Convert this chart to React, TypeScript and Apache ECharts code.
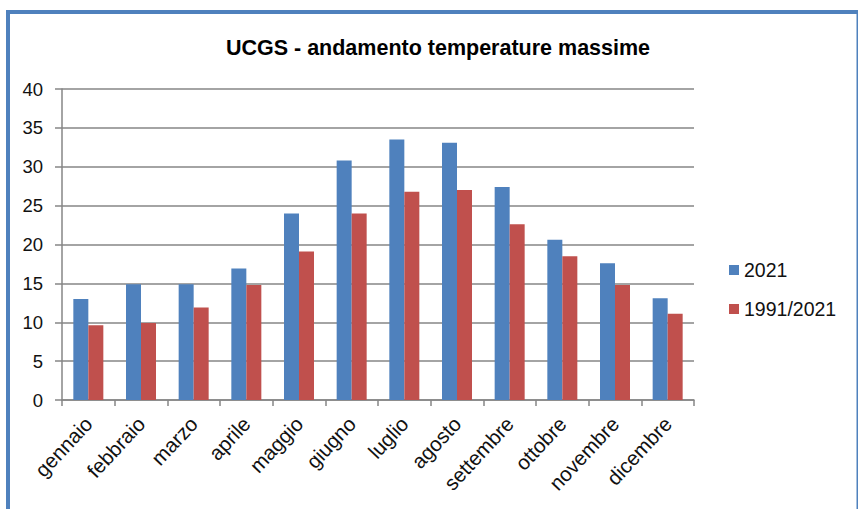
import React, { useEffect, useRef } from "react";
import * as echarts from "echarts";

const months = ["gennaio", "febbraio", "marzo", "aprile", "maggio", "giugno", "luglio", "agosto", "settembre", "ottobre", "novembre", "dicembre"];
const values2021 = [13.0, 14.9, 14.9, 16.9, 24.0, 30.8, 33.5, 33.1, 27.4, 20.6, 17.6, 13.1];
const values1991_2021 = [9.6, 9.9, 11.9, 14.8, 19.1, 24.0, 26.8, 27.0, 22.6, 18.5, 14.8, 11.1];
const seriesNames = ["2021", "1991/2021"];
const yTicks = { min: 0, max: 40, interval: 5 };

export default function App() {
  const ref = useRef<HTMLDivElement>(null);
  useEffect(() => {
    if (!ref.current) return;
    const chart = echarts.init(ref.current, null, { renderer: "svg" });
    const font = "'Liberation Sans', Arial, sans-serif";
    chart.setOption({
      animation: false,
      backgroundColor: "#ffffff",
      title: {
        text: "UCGS - andamento temperature massime",
        left: 433,
        textAlign: "center",
        top: 32,
        textStyle: { fontFamily: font, fontSize: 21.5, fontWeight: "bold", color: "#000" },
      },
      graphic: [
        { type: "rect", shape: { x: 6, y: 10, width: 4, height: 499 }, style: { fill: "#4F81BD" } },
        { type: "rect", shape: { x: 6, y: 10, width: 852, height: 4 }, style: { fill: "#4F81BD" } },
        { type: "rect", shape: { x: 856.5, y: 10, width: 1.5, height: 499 }, style: { fill: "#4F81BD" } },
      ],
      legend: {
        orient: "vertical",
        left: 724,
        top: 255,
        itemWidth: 10,
        itemHeight: 10,
        itemGap: 19,
        icon: "rect",
        textStyle: { fontFamily: font, fontSize: 19.5, color: "#111", lineHeight: 20 },
        data: seriesNames,
      },
      grid: { left: 62, top: 89, width: 632, height: 311 },
      xAxis: {
        type: "category",
        data: months,
        axisLine: { lineStyle: { color: "#868686", width: 1.5 } },
        axisTick: { show: true, length: 6, lineStyle: { color: "#868686", width: 1.5 } },
        axisLabel: { rotate: 47, margin: 20, fontFamily: font, fontSize: 20.5, color: "#111", interval: 0 },
      },
      yAxis: {
        type: "value",
        min: yTicks.min,
        max: yTicks.max,
        interval: yTicks.interval,
        axisLine: { show: true, lineStyle: { color: "#868686", width: 1.5 } },
        axisTick: { show: true, length: 7, lineStyle: { color: "#868686", width: 1.5 } },
        axisLabel: { margin: 19, fontFamily: font, fontSize: 18.5, color: "#111" },
        splitLine: { lineStyle: { color: "#868686", width: 1.5 } },
      },
      series: [
        { name: seriesNames[0], type: "bar", data: values2021, barWidth: 15, barGap: "0%", itemStyle: { color: "#4F81BD" } },
        { name: seriesNames[1], type: "bar", data: values1991_2021, barWidth: 15, barGap: "0%", itemStyle: { color: "#C0504D" } },
      ],
    });
    return () => chart.dispose();
  }, []);
  return <div ref={ref} style={{ position: "absolute", left: 0, top: 0, width: 859, height: 509 }} />;
}
